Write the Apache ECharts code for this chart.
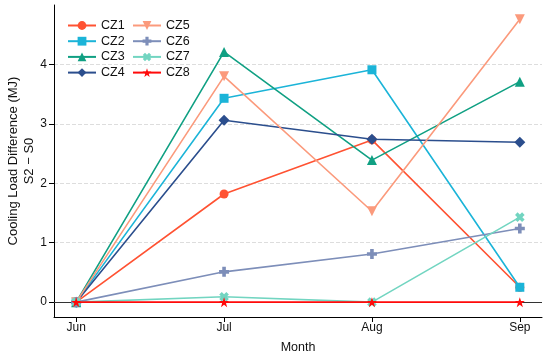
<!DOCTYPE html>
<html><head><meta charset="utf-8">
<script src="https://cdn.jsdelivr.net/npm/echarts@6/dist/echarts.min.js"></script>
<style>html,body{margin:0;padding:0;background:#fff}#c{width:550px;height:359px}</style>
</head><body><div id="c"></div>
<script>
const months = ['Jun','Jul','Aug','Sep'];
const yTicks = [0,1,2,3,4];
const CZ1 = [0, 1.82, 2.73, 0.25];
const CZ2 = [0, 3.43, 3.91, 0.25];
const CZ3 = [0, 4.21, 2.39, 3.71];
const CZ4 = [0, 3.06, 2.74, 2.69];
const CZ5 = [0, 3.80, 1.53, 4.76];
const CZ6 = [0, 0.51, 0.81, 1.24];
const CZ7 = [0, 0.09, 0, 1.43];
const CZ8 = [0, 0, 0, 0];
const names = ['CZ1','CZ2','CZ3','CZ4','CZ5','CZ6','CZ7','CZ8'];
const values = [CZ1,CZ2,CZ3,CZ4,CZ5,CZ6,CZ7,CZ8];
const colors = ['#FF5232','#1BB4D8','#10A083','#2B4E8D','#FB9A7C','#7D8EB9','#72D5C1','#FF0A0A'];
const plus = 'path://M3.2,0h3.6v3.2h3.2v3.6h-3.2v3.2h-3.6v-3.2h-3.2v-3.6h3.2z';
const star = 'path://M50,0L61.8,35.1L98.9,35.5L69.1,57.6L80.2,93.1L50,71.5L19.8,93.1L30.9,57.6L1.1,35.5L38.2,35.1Z';
const symbols = ['circle','rect','triangle','diamond',
  'path://M0,0L10,0L5,9z', plus, plus, star];
const rot = [0,0,0,0,0,0,45,0];
const sizes = [9,9,10,11,10,10,10,10];

const series = names.map((n,i)=>({
  name:n, type:'line',
  data: values[i].map((v,j)=>[j,v]),
  symbol: symbols[i], symbolSize: sizes[i], symbolRotate: rot[i],
  showAllSymbol:true,
  lineStyle:{color:colors[i], width:1.6},
  itemStyle:{color:colors[i]},
  z: 2+i
}));
series.push({
  type:'line', data:[], silent:true,
  markLine:{symbol:'none', silent:true, label:{show:false},
    lineStyle:{color:'#333', width:1, type:'solid'},
    data:[{yAxis:0}]},
  z:1
});

const legendCommon = {
  orient:'vertical', top:14,
  itemWidth:28, itemHeight:11, itemGap:2.7,
  textStyle:{fontSize:12.5, color:'#111', lineHeight:12}
};

const chart = echarts.init(document.getElementById('c'));
chart.setOption({
  animation:false,
  textStyle:{fontFamily:'Liberation Sans, Arial, sans-serif'},
  color: colors,
  grid:{left:54, right:8, top:5, bottom:42, containLabel:false, outerBoundsMode:'none'},
  legend:[
    Object.assign({left:62, data:names.slice(0,4)}, legendCommon),
    Object.assign({left:127, data:names.slice(4)}, legendCommon)
  ],
  xAxis:{
    type:'value', min:-0.15, max:3.15,
    name:'Month', nameLocation:'middle', nameGap:24, nameMoveOverlap:false,
    nameTextStyle:{fontSize:12.5, color:'#111'},
    axisLine:{show:true, onZero:false, lineStyle:{color:'#000', width:1}},
    axisTick:{show:true, customValues:[0,1,2,3], length:5, lineStyle:{color:'#000'}},
    axisLabel:{customValues:[0,1,2,3], formatter:v=>months[Math.round(v)], fontSize:12, color:'#111', margin:5},
    splitLine:{show:false}
  },
  yAxis:{
    type:'value', min:-0.25, max:5,
    name:'Cooling Load Difference (MJ)\nS2 − S0', nameLocation:'middle', nameGap:17, nameMoveOverlap:false,
    nameTextStyle:{fontSize:13, color:'#111', lineHeight:16},
    axisLine:{show:true, onZero:false, lineStyle:{color:'#000', width:1}},
    axisTick:{show:true, customValues:yTicks, length:5, lineStyle:{color:'#000'}},
    axisLabel:{customValues:yTicks, fontSize:12, color:'#111', margin:7},
    splitLine:{show:true, lineStyle:{color:'#ddd', type:'dashed'}}
  },
  series: series
});
</script></body></html>
